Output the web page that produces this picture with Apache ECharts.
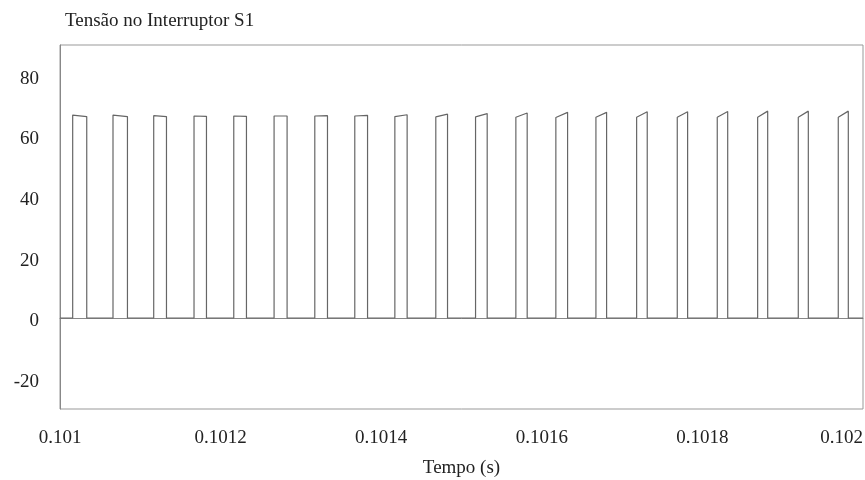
<!DOCTYPE html>
<html>
<head>
<meta charset="utf-8">
<script src="https://cdn.jsdelivr.net/npm/echarts@6/dist/echarts.min.js"></script>
<style>html,body{margin:0;padding:0;background:#fff}#c{width:865px;height:480px}</style>
</head>
<body>
<div id="c"></div>
<script>
// Switch-on (rise) and switch-off (fall) instants, in seconds
var riseTimes = [0.1010158,0.1010660,0.1011167,0.1011669,0.1012164,0.1012666,0.1013173,0.1013671,0.1014170,0.1014680,
                 0.1015175,0.1015677,0.1016175,0.1016674,0.1017181,0.1017687,0.1018185,0.1018688,0.1019194,0.1019692];
var fallTimes = [0.1010333,0.1010840,0.1011326,0.1011824,0.1012322,0.1012828,0.1013331,0.1013830,0.1014323,0.1014826,
                 0.1015320,0.1015818,0.1016321,0.1016807,0.1017313,0.1017816,0.1018315,0.1018813,0.1019319,0.1019817];
// Voltage at start and end of each high segment (V)
var topStart = [66.9,66.9,66.7,66.6,66.6,66.6,66.6,66.6,66.4,66.3,66.3,66.2,66.1,66.2,66.2,66.2,66.2,66.2,66.2,66.2];
var topEnd   = [66.4,66.4,66.4,66.5,66.5,66.6,66.7,66.8,67.0,67.2,67.4,67.6,67.8,67.8,68.0,68.0,68.1,68.2,68.2,68.2];
var lowLevel = 0;
var tStart = 0.101, tEnd = 0.102;
var xTicks = [0.101,0.1012,0.1014,0.1016,0.1018,0.102];
var yTicks = [-20,0,20,40,60,80];
var titleText = 'Tensão no Interruptor S1';
var xName = 'Tempo (s)';

var pts = [[tStart, lowLevel]];
for (var i = 0; i < riseTimes.length; i++) {
  pts.push([riseTimes[i], lowLevel]);
  pts.push([riseTimes[i], topStart[i]]);
  pts.push([fallTimes[i], topEnd[i]]);
  pts.push([fallTimes[i], lowLevel]);
}
pts.push([tEnd, lowLevel]);

var font = '"Liberation Serif","DejaVu Serif",serif';
var chart = echarts.init(document.getElementById('c'), null, {renderer:'canvas'});
chart.setOption({
  animation: false,
  backgroundColor: '#fff',
  title: {text: titleText, left: 60, top: 7,
    textStyle: {fontFamily: font, fontSize: 19, fontWeight: 'normal', color: '#222'}},
  grid: {left: 60, right: 2, top: 45, bottom: 71, show: true, borderColor: '#999', borderWidth: 1,
    outerBoundsMode: 'none', containLabel: false},
  xAxis: {
    type: 'value', min: tStart, max: tEnd, interval: 0.0002,
    name: xName, nameLocation: 'middle', nameGap: 50,
    nameTextStyle: {fontFamily: font, fontSize: 19, color: '#222'},
    axisLine: {show: true, lineStyle: {color: '#888'}},
    axisTick: {show: false},
    splitLine: {show: false},
    axisLabel: {fontFamily: font, fontSize: 19, color: '#222', margin: 20, alignMaxLabel: 'right',
      customValues: xTicks,
      formatter: function (v) { return String(+v.toFixed(4)); }}
  },
  yAxis: {
    type: 'value', min: -30, max: 90,
    axisLine: {show: true, lineStyle: {color: '#888'}},
    axisTick: {show: false},
    splitLine: {show: false},
    axisLabel: {fontFamily: font, fontSize: 19, color: '#222', margin: 21, customValues: yTicks,
      formatter: function (v) { return '{a|' + v + '}'; },
      rich: {a: {fontFamily: font, fontSize: 19, color: '#222', padding: [7, 0, 0, 0]}}}
  },
  series: [{
    type: 'line', data: pts, showSymbol: false, symbol: 'none',
    lineStyle: {color: '#666', width: 1.2}
  }]
});
</script>
</body>
</html>
